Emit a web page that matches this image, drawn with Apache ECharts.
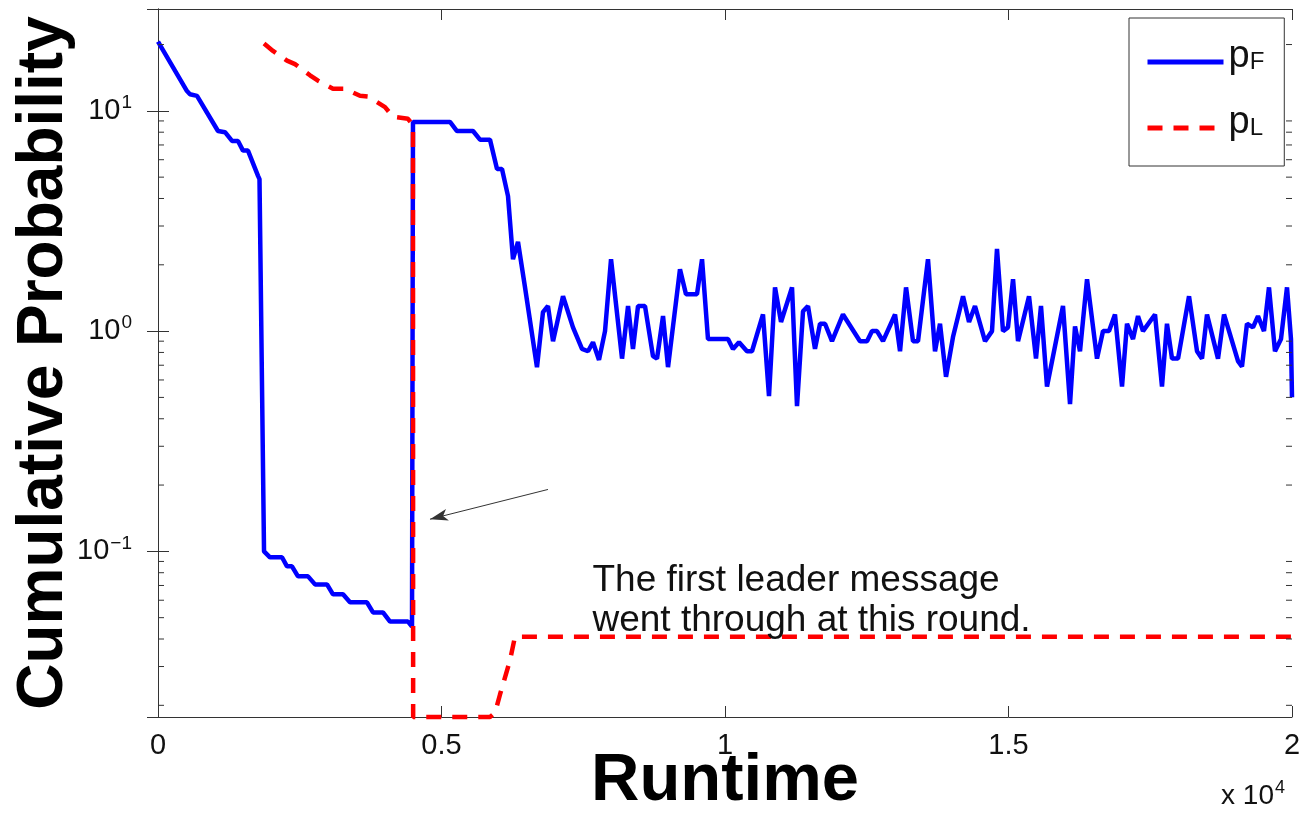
<!DOCTYPE html>
<html lang="en">
<head>
<meta charset="UTF-8">
<title>Cumulative Probability</title>
<script src="https://cdn.jsdelivr.net/npm/echarts@6/dist/echarts.min.js"></script>
<style>
  body { margin: 0; background: #fff; }
  #main { width: 1303px; height: 818px; }
</style>
</head>
<body>
<div id="main"></div>
<script>
// pF curve (runtime, probability)
var pfRuntime = [0, 511, 564, 688, 1058, 1182, 1305, 1411, 1499, 1587,
  1764, 1790, 1870, 1975, 2187, 2275, 2363, 2469, 2646, 2769,
  2981, 3086, 3263, 3386, 3686, 3792, 3968, 4092, 4409, 4480,
  4497, 5150, 5273, 5556, 5679, 5855, 5979, 6067, 6173, 6261,
  6349, 6473, 6684, 6790, 6878, 6967, 7143, 7319, 7478, 7584,
  7672, 7778, 7884, 7990, 8184, 8290, 8377, 8466, 8589, 8730,
  8801, 8907, 8995, 9206, 9312, 9506, 9595, 9700, 10053, 10141,
  10247, 10388, 10476, 10670, 10776, 10882, 10988, 11182, 11270, 11376,
  11464, 11587, 11676, 11764, 11887, 12081, 12381, 12505, 12593, 12681,
  12787, 12999, 13087, 13193, 13316, 13404, 13580, 13704, 13792, 13898,
  14021, 14198, 14304, 14409, 14586, 14709, 14797, 14903, 14991, 15080,
  15168, 15362, 15485, 15573, 15679, 15961, 16085, 16173, 16261, 16385,
  16561, 16667, 16773, 16878, 17002, 17090, 17196, 17284, 17372, 17584,
  17707, 17795, 17884, 17990, 18184, 18325, 18413, 18501, 18695, 18801,
  19048, 19118, 19206, 19312, 19400, 19506, 19594, 19700, 19806, 19912,
  19982, 20000];
var pfValue = [20.6, 12.3, 11.9, 11.7, 8.1, 8.0, 7.3, 7.3, 6.6, 6.6,
  5.07, 4.9, 0.1, 0.094, 0.094, 0.0855, 0.0855, 0.077, 0.077, 0.0708,
  0.0708, 0.0638, 0.0638, 0.0587, 0.0587, 0.0528, 0.0528, 0.048, 0.048, 0.0456,
  8.9, 8.9, 8.1, 8.1, 7.4, 7.4, 5.45, 5.45, 4.1, 2.12,
  2.54, 1.58, 0.686, 1.22, 1.3, 0.9, 1.44, 1.04, 0.83, 0.81,
  0.89, 0.74, 1.0, 2.12, 0.75, 1.3, 0.83, 1.3, 1.3, 0.77,
  0.75, 1.17, 0.686, 1.91, 1.47, 1.47, 2.12, 0.92, 0.92, 0.83,
  0.89, 0.81, 0.81, 1.19, 0.507, 1.58, 1.1, 1.58, 0.456, 1.23,
  1.3, 0.83, 1.08, 1.08, 0.9, 1.19, 0.9, 0.9, 1.0, 1.0,
  0.9, 1.19, 0.81, 1.58, 0.9, 0.9, 2.12, 0.81, 1.08, 0.62,
  0.94, 1.44, 1.1, 1.3, 0.9, 1.0, 2.36, 1.0, 1.04, 1.72,
  0.9, 1.44, 0.75, 1.3, 0.56, 1.3, 0.466, 1.05, 0.81, 1.72,
  0.75, 1.0, 1.0, 1.19, 0.56, 1.08, 0.92, 1.17, 1.0, 1.19,
  0.56, 1.08, 0.75, 0.75, 1.44, 0.81, 0.75, 1.19, 0.75, 1.19,
  0.73, 0.69, 1.08, 1.04, 1.17, 1.0, 1.58, 0.81, 0.92, 1.58,
  0.92, 0.5];

// pL curve
var plRuntime = [1870, 2028, 2275, 2416, 2681, 2822, 3086, 3298, 3563, 3704,
  4004, 4145, 4409, 4497, 4500, 5855, 5944, 6032, 6208, 6296, 20000];
var plValue = [20.2, 18.7, 16.9, 16.3, 14.5, 13.7, 12.6, 12.6, 11.7, 11.6,
  10.4, 9.4, 9.2, 8.6, 0.0177, 0.0177, 0.0185, 0.0224, 0.032, 0.041, 0.041];

// axes
var yMin = 0.0177, yMax = 29;
var xTicks = [0, 5000, 10000, 15000, 20000];
var xTickLabels = ['0', '0.5', '1', '1.5', '2'];
var yMinorTicks = [0.02, 0.03, 0.04, 0.05, 0.06, 0.07, 0.08, 0.09,
  0.2, 0.3, 0.4, 0.5, 0.6, 0.7, 0.8, 0.9,
  2, 3, 4, 5, 6, 7, 8, 9, 20];

// annotation (data coords)
var noteText = 'The first leader message\nwent through at this round.';
var notePos = [7654, 0.0595];
var arrowFrom = [6878, 0.191];
var arrowTo = [4797, 0.14];

function zip(a, b) {
  return a.map(function (v, i) { return [v, b[i]]; });
}

var font = '"Liberation Sans", Arial, sans-serif';
var axisColor = '#333';

var chart = echarts.init(document.getElementById('main'));
var option = {
  animation: false,
  backgroundColor: '#fff',
  grid: { left: 158, top: 9, right: 11, bottom: 101, outerBoundsMode: 'none', containLabel: false },
  legend: {
    orient: 'vertical',
    left: 1129,
    top: 18,
    padding: [20, 20, 22, 16],
    itemWidth: 76,
    itemHeight: 40,
    itemGap: 26,
    borderColor: axisColor,
    borderWidth: 1,
    backgroundColor: '#fff',
    data: ['pF', 'pL'],
    itemStyle: { color: 'rgba(0,0,0,0)', borderWidth: 0, opacity: 0 },
    lineStyle: { width: 5 },
    formatter: function (name) {
      return '{p|p}{s|' + name.charAt(1) + '}';
    },
    textStyle: {
      rich: {
        p: { fontSize: 38, fontFamily: font, color: '#111', padding: [0, 0, 10, 0] },
        s: { fontSize: 24, fontFamily: font, color: '#111' }
      }
    }
  },
  xAxis: [{
    type: 'value',
    min: 0,
    max: 20000,
    interval: 5000,
    name: 'Runtime',
    nameLocation: 'middle',
    nameGap: 31,
    nameMoveOverlap: false,
    nameTextStyle: { fontSize: 67, fontWeight: 'bold', fontFamily: font, color: '#000', verticalAlign: 'top' },
    axisLine: { lineStyle: { color: axisColor, width: 1 } },
    axisTick: { inside: true, length: 11, lineStyle: { color: axisColor } },
    splitLine: { show: false },
    axisLabel: {
      margin: 14,
      fontSize: 29,
      fontFamily: font,
      color: '#111',
      formatter: function (v) {
        var i = xTicks.indexOf(v);
        return i >= 0 ? xTickLabels[i] : '';
      }
    }
  }, {
    type: 'value',
    position: 'top',
    min: 0,
    max: 20000,
    interval: 5000,
    axisLine: { lineStyle: { color: axisColor, width: 1 } },
    axisTick: { inside: true, length: 11, lineStyle: { color: axisColor } },
    axisLabel: { show: false },
    splitLine: { show: false }
  }],
  yAxis: [{
    type: 'log',
    min: yMin,
    max: yMax,
    name: 'Cumulative Probability',
    nameLocation: 'middle',
    nameGap: 82,
    nameRotate: 90,
    nameMoveOverlap: false,
    nameTextStyle: { fontSize: 64, fontWeight: 'bold', fontFamily: font, color: '#000' },
    axisLine: { show: true, lineStyle: { color: axisColor, width: 1 } },
    axisTick: { inside: true, length: 11, lineStyle: { color: axisColor } },
    splitLine: { show: false },
    axisLabel: {
      margin: 26,
      showMinLabel: false,
      showMaxLabel: false,
      formatter: function (v) {
        var e = Math.round(Math.log(v) / Math.LN10);
        return '{b|10}{e|' + (e < 0 ? '\u2212' + (-e) : e) + '}';
      },
      rich: {
        b: { fontSize: 29, fontFamily: font, color: '#111' },
        e: { fontSize: 19, fontFamily: font, color: '#111', padding: [0, 0, 16, 1] }
      }
    }
  }, {
    type: 'log',
    position: 'right',
    min: yMin,
    max: yMax,
    axisLine: { show: true, lineStyle: { color: axisColor, width: 1 } },
    axisTick: { inside: true, length: 11, lineStyle: { color: axisColor } },
    axisLabel: { show: false },
    splitLine: { show: false }
  }],
  series: [{
    name: 'pF',
    type: 'line',
    symbol: 'none',
    data: zip(pfRuntime, pfValue),
    lineStyle: { color: '#0000ff', width: 4.5 },
    itemStyle: { color: '#0000ff' },
    z: 3,
    markLine: {
      silent: true,
      symbol: ['none', 'arrow'],
      symbolSize: [9, 18],
      label: { show: false },
      lineStyle: { color: '#333', width: 1, type: 'solid' },
      data: [[{ coord: arrowFrom }, { coord: arrowTo }]]
    },
    markPoint: {
      silent: true,
      symbol: 'circle',
      symbolSize: 1,
      itemStyle: { color: 'rgba(0,0,0,0)' },
      label: {
        show: true,
        position: 'right',
        distance: 0,
        align: 'left',
        formatter: noteText,
        fontSize: 37,
        lineHeight: 40,
        fontFamily: font,
        color: '#111'
      },
      data: [{ coord: notePos }]
    }
  }, {
    name: 'pL',
    type: 'line',
    symbol: 'none',
    clip: false,
    data: zip(plRuntime, plValue),
    lineStyle: { color: '#ff0000', width: 4.5, type: [15, 11] },
    itemStyle: { color: '#ff0000' },
    z: 4
  }, {
    // minor ticks of the log axis, left and right edges
    type: 'custom',
    silent: true,
    z: 5,
    data: yMinorTicks.map(function (v) { return [0, v]; }),
    renderItem: function (params, api) {
      var p = api.coord([0, api.value(1)]);
      var cs = params.coordSys;
      var st = { stroke: axisColor, lineWidth: 1 };
      return {
        type: 'group',
        children: [
          { type: 'line', shape: { x1: cs.x, y1: p[1], x2: cs.x + 6, y2: p[1] }, style: st },
          { type: 'line', shape: { x1: cs.x + cs.width - 6, y1: p[1], x2: cs.x + cs.width, y2: p[1] }, style: st }
        ]
      };
    }
  }],
  graphic: [{
    type: 'text',
    right: 18,
    bottom: 8,
    style: {
      text: '{a|x 10}{b|4}',
      rich: {
        a: { fontSize: 28, fontFamily: font, fill: '#111' },
        b: { fontSize: 18, fontFamily: font, fill: '#111', padding: [0, 0, 15, 1] }
      }
    }
  }]
};
chart.setOption(option);
</script>
</body>
</html>
